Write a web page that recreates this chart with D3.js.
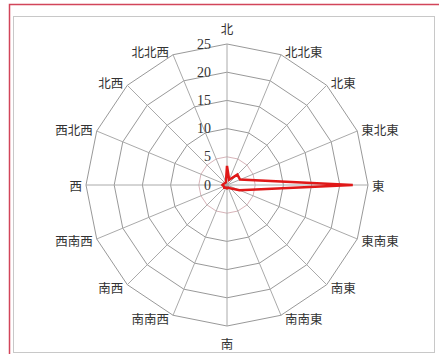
<!DOCTYPE html>
<html>
<head>
<meta charset="utf-8">
<script src="https://cdn.jsdelivr.net/npm/d3@7"></script>
<style>
  html, body { margin: 0; padding: 0; background: #fff; }
  svg { display: block; }
</style>
</head>
<body>
<svg id="chart" width="439" height="354"></svg>
<script>
const directions = ["北","北北東","北東","東北東","東","東南東","南東","南南東","南","南南西","南西","西南西","西","西北西","北西","北北西"];
const values = [3.4, 1.0, 2.6, 2.5, 22.3, 2.4, 0.8, 0.5, 0.6, 0.5, 0.7, 0.6, 0.8, 0.6, 0.5, 0.5];
const ticks = [0, 5, 10, 15, 20, 25];

const svg = d3.select("#chart");
const W = 439, H = 354;
const cx = 227, cy = 185, R = 141;

// frames
svg.append("rect").attr("x", 9.5).attr("y", 4.5).attr("width", W + 10).attr("height", H + 10)
  .attr("fill", "none").attr("stroke", "#d2455a").attr("stroke-width", 1.5);
svg.append("rect").attr("x", 13.5).attr("y", 16.5).attr("width", 421).attr("height", 336)
  .attr("fill", "none").attr("stroke", "#c8c8c8").attr("stroke-width", 1);

const r = d3.scaleLinear().domain([0, 25]).range([0, R]);
const angle = d3.scalePoint().domain(directions).range([0, 2 * Math.PI * (15 / 16)]);

const g = svg.append("g").attr("transform", `translate(${cx},${cy})`);

// rings (polygons)
const ringLine = d3.lineRadial().curve(d3.curveLinearClosed);
ticks.filter(t => t > 0).forEach(t => {
  g.append("path")
    .attr("d", ringLine(directions.map(d => [angle(d), r(t)])))
    .attr("fill", "none")
    .attr("stroke", t === 5 ? "#d8b4b9" : "#999")
    .attr("stroke-width", 1);
});

// spokes
directions.forEach(d => {
  const a = angle(d);
  g.append("line")
    .attr("x1", 0).attr("y1", 0)
    .attr("x2", r(25) * Math.sin(a)).attr("y2", -r(25) * Math.cos(a))
    .attr("stroke", "#aaa").attr("stroke-width", 1);
});

// tick labels
ticks.forEach(t => {
  g.append("text")
    .attr("x", -16).attr("y", -r(t))
    .attr("text-anchor", "end")
    .attr("dominant-baseline", "central")
    .attr("font-family", "Liberation Serif, DejaVu Serif, serif")
    .attr("font-size", 14)
    .attr("fill", "#333")
    .text(t);
});

// direction labels
directions.forEach(d => {
  const a = angle(d);
  const s = Math.sin(a), c = Math.cos(a);
  const x = r(25) * s, y = -r(25) * c;
  let anchor = "middle", dx = 0, dy = 0;
  if (Math.abs(s) < 1e-6) {
    dy = c > 0 ? -16 : 17;
  } else {
    anchor = s > 0 ? "start" : "end";
    dx = s > 0 ? 4 : -4;
    dy = -c * 4;
  }
  g.append("text")
    .attr("x", x + dx).attr("y", y + dy)
    .attr("text-anchor", anchor)
    .attr("dominant-baseline", "central")
    .attr("font-family", "Noto Sans CJK JP, sans-serif")
    .attr("font-size", 12.5)
    .attr("fill", "#333")
    .text(d);
});

// data line
const dataLine = d3.lineRadial().curve(d3.curveLinearClosed);
g.append("path")
  .attr("d", dataLine(directions.map((d, i) => [angle(d), r(values[i])])))
  .attr("fill", "none")
  .attr("stroke", "#e01818")
  .attr("stroke-width", 2.5)
  .attr("stroke-linejoin", "miter");
</script>
</body>
</html>
